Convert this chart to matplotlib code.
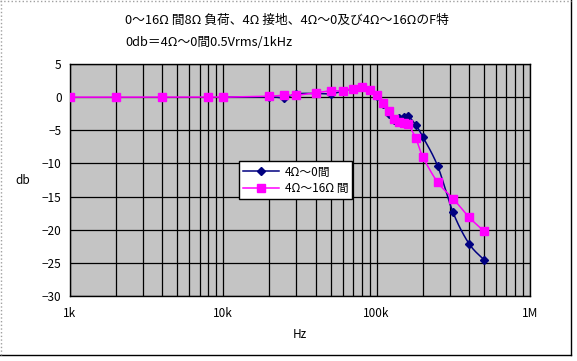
import numpy as np
import matplotlib
matplotlib.use("Agg")
import matplotlib.pyplot as plt
from matplotlib.lines import Line2D

plt.rcParams['font.family'] = ['Noto Sans CJK JP', 'DejaVu Sans']

# ---- data ----
freq_pink = [1e3, 2e3, 4e3, 8e3, 10e3, 20e3, 25e3, 30e3, 40e3, 50e3, 60e3, 70e3, 80e3,
             90e3, 100e3, 110e3, 120e3, 130e3, 140e3, 150e3, 160e3, 180e3, 200e3,
             250e3, 315e3, 400e3, 500e3]
db_pink = [0, 0, 0, 0, 0, 0.15, 0.3, 0.3, 0.65, 0.95, 0.95, 1.25, 1.55,
           1.05, 0.3, -0.85, -2.1, -3.3, -3.7, -3.9, -4.1, -6.2, -9.0,
           -12.85, -15.3, -18.1, -20.2]

freq_blue = [10e3, 20e3, 25e3, 30e3, 40e3, 50e3, 60e3, 70e3, 80e3, 90e3, 100e3,
             110e3, 120e3, 130e3, 140e3, 150e3, 160e3, 180e3, 200e3,
             250e3, 315e3, 400e3, 500e3]
db_blue = [0, 0.05, -0.1, 0.5, 0.55, 0.5, 0.9, 1.3, 1.55, 1.05, 0.2,
           -1.0, -2.6, -3.5, -3.2, -3.0, -2.85, -4.2, -6.0,
           -10.4, -17.4, -22.1, -24.5]

label_blue = "4Ω～0間"
label_pink = "4Ω～16Ω 間"
title1 = "0～16Ω 間8Ω 負荷、4Ω 接地、4Ω～0及び4Ω～16ΩのF特"
title2 = "0db＝4Ω～0間0.5Vrms/1kHz"
xticks = [1e3, 1e4, 1e5, 1e6]
xticklabels = ["1k", "10k", "100k", "1M"]
yticks = [5, 0, -5, -10, -15, -20, -25, -30]


def smooth(xs, ys, n=12):
    """Catmull-Rom smoothing in (log10 f, dB) space for drawing the line."""
    lx = np.log10(np.asarray(xs, float))
    y = np.asarray(ys, float)
    P = np.column_stack([lx, y])
    P = np.vstack([P[0], P, P[-1]])
    out = []
    t = np.linspace(0, 1, n, endpoint=False)
    for i in range(1, len(P) - 2):
        p0, p1, p2, p3 = P[i - 1], P[i], P[i + 1], P[i + 2]
        t2, t3 = t * t, t * t * t
        seg = 0.5 * ((2 * p1)[None, :] + np.outer(t, -p0 + p2)
                     + np.outer(t2, 2 * p0 - 5 * p1 + 4 * p2 - p3)
                     + np.outer(t3, -p0 + 3 * p1 - 3 * p2 + p3))
        out.append(seg)
    out.append(P[-2][None, :])
    S = np.vstack(out)
    return 10 ** S[:, 0], S[:, 1]


fig = plt.figure(figsize=(5.77, 3.61), dpi=100)
fig.patch.set_facecolor('white')
ax = fig.add_axes([70 / 577, 1 - 296 / 361, 460 / 577, 232 / 361])
ax.set_facecolor('#c4c4c4')
ax.set_xscale('log')
ax.set_xlim(1e3, 1e6)
ax.set_ylim(-30, 5)

ax.set_xticks(xticks)
ax.set_xticklabels(xticklabels)
ax.set_yticks(yticks)
ax.set_yticklabels([str(v).replace('-', '−') for v in yticks])
ax.tick_params(axis='both', length=0, labelsize=8.5, colors='black')
ax.tick_params(axis='x', pad=8)
ax.tick_params(axis='y', pad=6)
ax.grid(True, which='major', color='black', linewidth=0.9)
ax.grid(True, which='minor', axis='x', color='black', linewidth=0.9)
ax.tick_params(which='minor', length=0)
ax.xaxis.set_minor_formatter(matplotlib.ticker.NullFormatter())
for s in ax.spines.values():
    s.set_color('black')
    s.set_linewidth(1)
ax.set_axisbelow(True)

bx, by = smooth(freq_blue, db_blue)
px, py = smooth(freq_pink, db_pink)
ax.plot(bx, by, color='#000080', linewidth=1.1, zorder=3)
ax.plot(freq_blue, db_blue, linestyle='none', marker='D', markersize=4.2,
        color='#000080', zorder=3)
ax.plot(px, py, color='#ff00ff', linewidth=1.1, zorder=4)
ax.plot(freq_pink, db_pink, linestyle='none', marker='s', markersize=5.2,
        color='#ff00ff', zorder=4)

handles = [Line2D([], [], color='#000080', marker='D', markersize=4.2, linewidth=1.1),
           Line2D([], [], color='#ff00ff', marker='s', markersize=5.2, linewidth=1.1)]
leg = ax.legend(handles, [label_blue, label_pink], loc='upper left',
                bbox_to_anchor=(0.368, 0.58), frameon=True, fancybox=False,
                edgecolor='black', facecolor='white', framealpha=1,
                fontsize=8.5, handlelength=3.0, borderpad=0.35,
                labelspacing=0.3, handletextpad=0.5, borderaxespad=0)
leg.get_frame().set_linewidth(1)

ax.set_xlabel("Hz", fontsize=8.5, labelpad=6)
ax.set_ylabel("db", fontsize=8.5, rotation=0, labelpad=14, va='center')

fig.text(125 / 577, 1 - 20 / 361, title1, fontsize=9.2, ha='left', va='center')
fig.text(125 / 577, 1 - 42 / 361, title2, fontsize=9.2, ha='left', va='center')

# chart border
fig.add_artist(Line2D([571 / 577, 571 / 577], [1 - 355 / 361, 1], color='black',
                      linewidth=1, transform=fig.transFigure))
fig.add_artist(Line2D([0, 571 / 577], [1 - 355 / 361, 1 - 355 / 361], color='black',
                      linewidth=1, transform=fig.transFigure))
fig.add_artist(Line2D([0.5 / 577, 0.5 / 577], [1 - 355 / 361, 1], color='#a0a0a0',
                      linewidth=1, linestyle=':', transform=fig.transFigure))
fig.add_artist(Line2D([0, 571 / 577], [1 - 0.5 / 361, 1 - 0.5 / 361], color='#a0a0a0',
                      linewidth=1, linestyle=':', transform=fig.transFigure))

fig.savefig("out.png", dpi=100)
